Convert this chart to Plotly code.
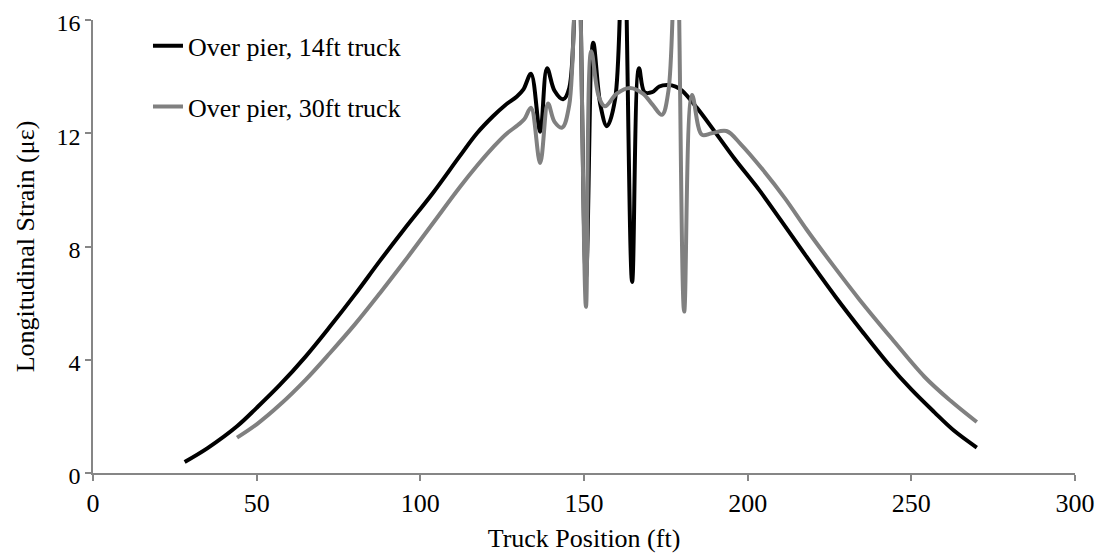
import plotly.graph_objects as go

# Over pier, 14ft truck
x14 = [28, 35, 44, 50, 57, 65, 72.4, 80, 87.7, 95, 103.9, 112.1, 117.3, 122.2, 126, 129.5, 131.5,
       133.8, 136.6, 138.7, 141, 143.6, 145.5, 148, 150.6, 152.8, 155, 157, 159.5, 162, 164.7,
       166.8, 168.5, 170.8, 173, 175.4, 178, 180, 184.5, 190, 196, 203.5, 210, 217, 227, 235,
       243, 250, 257, 263, 270]
y14 = [0.39, 0.88, 1.65, 2.3, 3.1, 4.12, 5.17, 6.3, 7.5, 8.6, 9.9, 11.2, 12.0, 12.6, 13.0, 13.3, 13.55,
       14.1, 12.05, 14.3, 13.5, 13.2, 13.6, 20.0, 6.9, 15.2, 13.0, 12.25, 13.2, 20.0, 6.75,
       14.3, 13.45, 13.45, 13.65, 13.7, 13.65, 13.5, 12.9, 12.05, 11.1, 10.0, 8.95, 7.8, 6.2, 5.0,
       3.85, 2.95, 2.15, 1.5, 0.9]

# Over pier, 30ft truck
x30 = [44, 50, 57, 65, 72.4, 80, 87.7, 95, 103.9, 112.1, 117.3, 122.2, 126, 129.9, 131.8, 133.8,
       136.6, 139, 141, 143.3, 145.5, 148, 150.6, 152.2, 154.5, 156.4, 160, 164, 168, 171, 173.8,
       175.8, 178.2, 180.6, 183, 186, 189, 193.5, 198, 204.7, 211.4, 218, 226, 234, 244, 254,
       262, 270]
y30 = [1.25, 1.72, 2.4, 3.3, 4.24, 5.25, 6.36, 7.45, 8.83, 10.1, 10.85, 11.5, 11.95, 12.3, 12.5, 12.9,
       10.95, 13.05, 12.4, 12.2, 13.0, 20.0, 5.87, 14.9, 13.3, 12.95, 13.4, 13.6, 13.4, 13.0, 12.65,
       13.5, 20.0, 5.7, 13.35, 11.95, 12.0, 12.08, 11.6, 10.7, 9.7, 8.6, 7.35, 6.15, 4.75, 3.4,
       2.55, 1.8]

x_ticks = [0, 50, 100, 150, 200, 250, 300]
y_ticks = [0, 4, 8, 12, 16]

FONT = "Liberation Serif, Times New Roman, serif"
AXIS_GREY = "#868686"

fig = go.Figure()
fig.add_trace(go.Scatter(x=x14, y=y14, mode="lines", name="Over pier, 14ft truck",
                         line=dict(color="#000000", width=4, shape="spline", smoothing=1.0),
                         legendgroup="a"))
fig.add_trace(go.Scatter(x=x30, y=y30, mode="lines", name="Over pier, 30ft truck",
                         line=dict(color="#808080", width=4, shape="spline", smoothing=1.0),
                         legendgroup="b"))

fig.update_layout(
    width=1108, height=556,
    margin=dict(l=85, r=41, t=12, b=91),
    paper_bgcolor="white", plot_bgcolor="white",
    font=dict(family=FONT, size=26, color="#000000"),
    showlegend=True,
    legend=dict(x=0.056, y=0.995, xanchor="left", yanchor="top",
                bgcolor="rgba(0,0,0,0)", borderwidth=0,
                traceorder="grouped", tracegroupgap=24,
                font=dict(family=FONT, size=26, color="#000000")),
    xaxis=dict(range=[0, 300], tickvals=x_ticks, ticktext=[str(v) for v in x_ticks],
               showgrid=False, zeroline=False, showline=True, linecolor=AXIS_GREY, linewidth=1.5,
               ticks="outside", ticklen=6, tickcolor=AXIS_GREY, tickwidth=1.5,
               ticklabeloverflow="allow", automargin=False,
               title=dict(text="Truck Position (ft)", font=dict(size=26), standoff=12),
               tickfont=dict(size=26)),
    yaxis=dict(range=[0, 16], tickvals=y_ticks, ticktext=[str(v) for v in y_ticks],
               showgrid=False, zeroline=False, showline=True, linecolor=AXIS_GREY, linewidth=1.5,
               ticks="outside", ticklen=6, tickcolor=AXIS_GREY, tickwidth=1.5,
               ticklabeloverflow="allow", automargin=False, ticklabelshift=3,
               title=dict(text="Longitudinal Strain (με)", font=dict(size=26), standoff=14),
               tickfont=dict(size=24)),
)

fig.write_html("out.html")
